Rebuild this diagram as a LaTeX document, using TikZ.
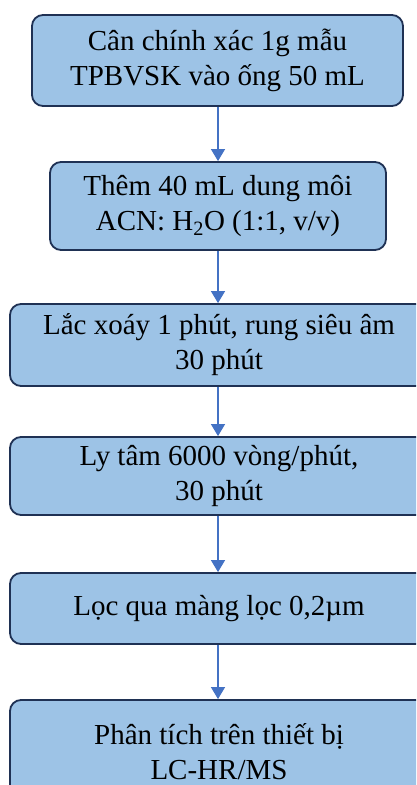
\documentclass[tikz,border=0pt]{standalone}
\usepackage{fontspec}
\setmainfont{Liberation Serif}
\usetikzlibrary{arrows.meta}
\definecolor{boxfill}{HTML}{9DC3E6}
\definecolor{boxline}{HTML}{1F3154}
\definecolor{arrowblue}{HTML}{4472C4}
\tikzset{
  stepbox/.style={draw=boxline, line width=1.8pt, fill=boxfill, rounded corners=11pt,
    align=center, inner sep=0pt, font=\fontsize{29}{35}\selectfont},
  flow/.style={draw=arrowblue, line width=1.1pt, -{Triangle[width=14pt,length=12pt]}}
}
\begin{document}
\begin{tikzpicture}[x=1pt,y=-1pt]
\useasboundingbox (0,0) rectangle (416,785);
\clip (0,0) rectangle (416,785);
\fill[white] (0,0) rectangle (416,785);
\node[stepbox, minimum width=371pt, minimum height=91pt] (s1) at (217.5,60.5)
  {Cân chính xác 1g mẫu\\TPBVSK vào ống 50 mL};
\node[stepbox, minimum width=336pt, minimum height=88pt] (s2) at (218,206)
  {Thêm 40 mL dung môi\\ACN: H\textsubscript{2}O (1:1, v/v)};
\node[stepbox, minimum width=418pt, minimum height=82pt] (s3) at (219,345)
  {Lắc xoáy 1 phút, rung siêu âm\\30 phút};
\node[stepbox, minimum width=418pt, minimum height=78pt] (s4) at (219,476)
  {Ly tâm 6000 vòng/phút,\\30 phút};
\node[stepbox, minimum width=418pt, minimum height=71pt] (s5) at (219,608.5)
  {Lọc qua màng lọc 0,2µm};
\node[stepbox, minimum width=418pt, minimum height=104pt] (s6) at (219,752)
  {Phân tích trên thiết bị\\LC-HR/MS};
\draw[flow] (s1.south -| 218,0) -- (s2.north -| 218,0);
\draw[flow] (s2.south -| 218,0) -- (s3.north -| 218,0);
\draw[flow] (s3.south -| 218,0) -- (s4.north -| 218,0);
\draw[flow] (s4.south -| 218,0) -- (s5.north -| 218,0);
\draw[flow] (s5.south -| 218,0) -- (s6.north -| 218,0);
\end{tikzpicture}
\end{document}
